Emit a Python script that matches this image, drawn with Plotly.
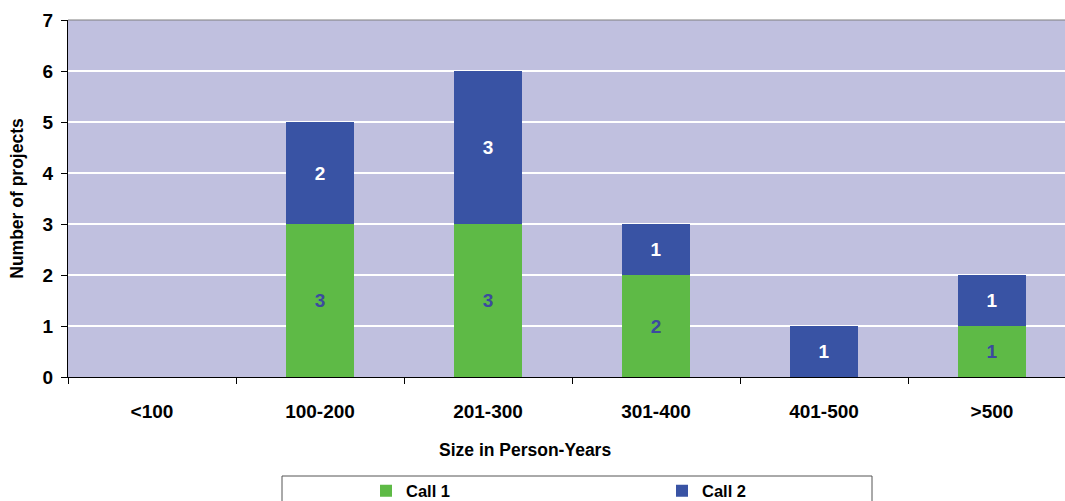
import plotly.graph_objects as go

# Project counts per size class, split by funding call
categories = ["<100", "100-200", "201-300", "301-400", "401-500", ">500"]
call1 = [0, 3, 3, 2, 0, 1]
call2 = [0, 2, 3, 1, 1, 1]
y_ticks = [0, 1, 2, 3, 4, 5, 6, 7]

GREEN = "#5EBA46"
BLUE = "#3953A4"
BG = "#C0C0DF"
FONT = "Liberation Sans, Arial, sans-serif"

W, H = 1065, 501
ML, MR, MT, MB = 68, 0, 20, 124
PW = W - ML - MR
PH = H - MT - MB


def px_x(px):
    return (px - ML) / PW


def px_y(px):
    return (H - MB - px) / PH


def labels(vals):
    return [str(v) if v else "" for v in vals]


fig = go.Figure()
fig.add_trace(go.Bar(
    name="Call 1", x=categories, y=call1, marker_color=GREEN,
    marker_line_width=0,
    text=labels(call1), textposition="inside", insidetextanchor="middle",
    textangle=0, constraintext="none",
    textfont=dict(family=FONT, size=19, color="#3B4A9F", weight="bold"),
))
fig.add_trace(go.Bar(
    name="Call 2", x=categories, y=call2, marker_color=BLUE,
    marker_line_width=0,
    text=labels(call2), textposition="inside", insidetextanchor="middle",
    textangle=0, constraintext="none",
    textfont=dict(family=FONT, size=19, color="white", weight="bold"),
))

# right edge of the plot sits slightly inside the last category slot
x_right = (W - ML) / 168 - 0.5

fig.update_layout(
    width=W, height=H,
    margin=dict(l=ML, r=MR, t=MT, b=MB, pad=0, autoexpand=False),
    barmode="stack", bargap=0.595,
    plot_bgcolor=BG, paper_bgcolor="white",
    font=dict(family=FONT, color="black"),
    showlegend=True,
    legend=dict(
        orientation="h", x=px_x(366), xanchor="left",
        y=px_y(491), yanchor="middle",
        entrywidth=251, entrywidthmode="pixels",
        font=dict(family=FONT, size=16.5, color="black", weight="bold"),
        bgcolor="rgba(0,0,0,0)", borderwidth=0,
        traceorder="normal",
    ),
    xaxis=dict(
        type="category", range=[-0.5, x_right], automargin=False,
        showline=True, linecolor="black", linewidth=1,
        ticks="outside", tickson="boundaries", ticklen=6,
        tickcolor="black", tickwidth=1,
        showgrid=False, zeroline=False,
        tickfont=dict(family=FONT, size=19, color="black", weight="bold"),
        ticklabelstandoff=17,
    ),
    yaxis=dict(
        range=[0, 7], tickvals=y_ticks, automargin=False,
        showline=True, linecolor="black", linewidth=1,
        ticks="outside", ticklen=6, tickcolor="black", tickwidth=1,
        showgrid=True, gridcolor="white", gridwidth=2,
        zeroline=False,
        tickfont=dict(family=FONT, size=19, color="black", weight="bold"),
        ticklabelstandoff=4,
        title=dict(text="Number of projects", standoff=14,
                   font=dict(family=FONT, size=17.5, color="black", weight="bold")),
    ),
    annotations=[
        dict(text="Size in Person-Years", xref="paper", yref="paper",
             x=px_x(525), y=px_y(450), xanchor="center", yanchor="middle",
             showarrow=False,
             font=dict(family=FONT, size=17.5, color="black", weight="bold")),
    ],
    shapes=[
        # thin frame line along the top of the plot area
        dict(type="line", xref="paper", yref="paper", x0=0, x1=1, y0=1, y1=1,
             line=dict(color="#7F7F7F", width=1)),
        # legend frame
        dict(type="rect", xref="paper", yref="paper",
             x0=px_x(282), x1=px_x(872), y0=px_y(476), y1=px_y(530),
             line=dict(color="#555555", width=1), fillcolor="rgba(0,0,0,0)"),
    ],
)

fig.write_html("out.html")
